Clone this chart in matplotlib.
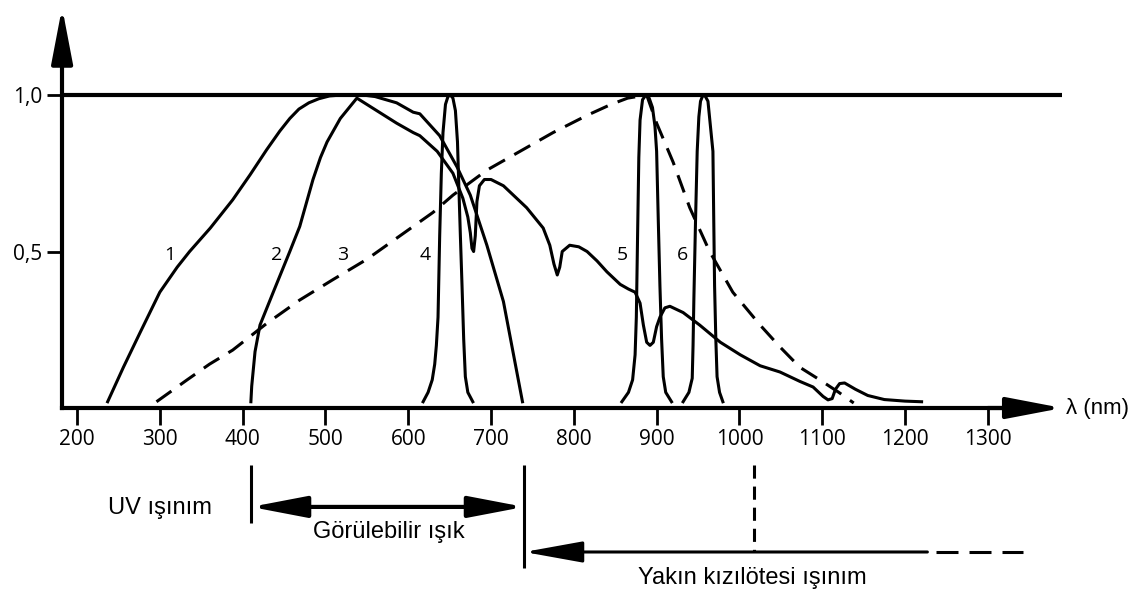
import matplotlib.pyplot as plt

plt.rcParams['font.family'] = ['Liberation Sans', 'DejaVu Sans']

# curve 1 (nm, relative sensitivity)
c1_nm = [237, 256, 276, 300, 321, 336, 361, 388, 409, 429, 445, 457, 468, 480, 492, 505, 520, 545,
         560, 586, 606, 614, 638, 659, 675, 695, 715, 738]
c1_val = [0.02, 0.13, 0.24, 0.37, 0.45, 0.50, 0.575, 0.665, 0.745, 0.825, 0.885, 0.925, 0.955, 0.975, 0.988, 0.997, 1.0, 1.0,
          0.995, 0.975, 0.945, 0.94, 0.87, 0.77, 0.68, 0.52, 0.34, 0.02]

# curve 2
c2_nm = [410, 411, 415, 421, 437, 457, 469, 485, 494, 502, 518, 538, 550, 574, 586, 606, 614, 635,
         654, 666, 672, 675, 677, 679, 681, 683, 686, 692, 700, 715, 743, 763, 771, 776, 780,
         783, 786, 795, 806, 816, 828, 840, 856, 866, 874, 880, 884, 888, 892, 896, 900, 904,
         910, 916, 932, 952, 977, 1001, 1025, 1049, 1073, 1089, 1101, 1107, 1112, 1116, 1121,
         1127, 1140, 1155, 1175, 1200, 1220]
c2_val = [0.02, 0.07, 0.18, 0.265, 0.37, 0.50, 0.58, 0.73, 0.80, 0.85, 0.925, 0.99, 0.97, 0.93, 0.91, 0.88, 0.87, 0.82,
          0.75, 0.67, 0.61, 0.56, 0.51, 0.50, 0.55, 0.66, 0.71, 0.73, 0.73, 0.71, 0.64, 0.575, 0.52, 0.46, 0.425,
          0.45, 0.50, 0.52, 0.515, 0.50, 0.47, 0.435, 0.395, 0.38, 0.37, 0.335, 0.265, 0.21, 0.20, 0.21, 0.26, 0.29,
          0.32, 0.325, 0.305, 0.265, 0.21, 0.17, 0.135, 0.115, 0.085, 0.067, 0.037, 0.026, 0.03, 0.06, 0.078,
          0.08, 0.06, 0.04, 0.027, 0.022, 0.02]

# curve 3 (dashed)
c3_nm = [296, 333, 360, 388, 429, 469, 509, 550, 590, 630, 654, 695, 735, 775, 816, 845, 865, 888,
         900, 920, 940, 964, 992, 1025, 1049, 1073, 1097, 1120, 1138]
c3_val = [0.02, 0.09, 0.14, 0.185, 0.27, 0.345, 0.41, 0.475, 0.55, 0.625, 0.68, 0.76, 0.82, 0.88, 0.935, 0.97, 0.99, 1.0,
          0.91, 0.785, 0.64, 0.50, 0.37, 0.265, 0.195, 0.13, 0.09, 0.05, 0.016]

# curves 4, 5, 6 (narrow peaks)
c4_nm = [618, 624, 629, 632, 634, 636, 638, 640, 642, 645, 648, 651, 654, 657, 659.5, 661, 663, 665, 667, 669, 672, 678]
c4_val = [0.02, 0.05, 0.09, 0.14, 0.2, 0.29, 0.55, 0.75, 0.88, 0.97, 0.995, 1.0, 0.99, 0.95, 0.85, 0.72, 0.55, 0.39, 0.22, 0.1, 0.05, 0.02]
c5_nm = [858, 866, 871, 874, 875.5, 877, 878.5, 880, 883, 887, 891, 895, 898, 900, 902, 904, 906, 908, 911, 918]
c5_val = [0.02, 0.05, 0.09, 0.17, 0.29, 0.55, 0.8, 0.92, 0.985, 1.0, 0.99, 0.96, 0.9, 0.82, 0.6, 0.39, 0.22, 0.1, 0.05, 0.02]
c6_nm = [932, 939, 943, 944, 945, 947, 949, 951, 953, 956, 959, 962, 965, 968, 969, 970, 971.5, 973, 976, 980]
c6_val = [0.02, 0.05, 0.095, 0.2, 0.35, 0.6, 0.82, 0.93, 0.98, 1.0, 0.995, 0.98, 0.9, 0.82, 0.6, 0.39, 0.22, 0.1, 0.05, 0.02]

curve_labels = ['1', '2', '3', '4', '5', '6']
label_nm = [312, 441, 521, 620, 858, 931]
label_val = [0.49, 0.49, 0.49, 0.49, 0.49, 0.49]

xticks = list(range(200, 1400, 100))
yticks = [0.5, 1.0]
ytick_labels = ['0,5', '1,0']

# spectral ranges below the axis
uv_edge = 410
vis_edge = 740
ir_mark = 1018
ir_solid_end = 1227
ir_end = 1343

fig = plt.figure(figsize=(11.43, 5.97), dpi=100)
ax = fig.add_axes([0, 0, 1, 1])
ax.set_xlim(107, 1487.4)
ax.set_ylim(-0.6038, 1.3035)

for s in ['top', 'right']:
    ax.spines[s].set_visible(False)
ax.spines['left'].set_position(('data', 182))
ax.spines['left'].set_bounds(0, 1.15)
ax.spines['bottom'].set_position(('data', 0))
ax.spines['bottom'].set_bounds(182, 1340)
ax.spines['left'].set_linewidth(3)
ax.spines['bottom'].set_linewidth(3)

ax.set_xticks(xticks)
ax.set_xticklabels([str(t) for t in xticks], family=['Open Sans', 'DejaVu Sans'])
ax.set_yticks(yticks)
ax.set_yticklabels(ytick_labels, family=['Open Sans', 'DejaVu Sans'])
ax.tick_params(axis='x', direction='out', length=12, width=2, pad=3, labelsize=15)
ax.tick_params(axis='y', direction='out', length=11, width=2, pad=3, labelsize=15)

arrow_head = 'head_length=3.4,head_width=0.65'
ax.annotate('', xy=(182, 1.28), xytext=(182, 1.1),
            arrowprops=dict(arrowstyle='-|>,' + arrow_head, lw=3, color='k',
                            shrinkA=0, shrinkB=0, mutation_scale=10))
ax.annotate('', xy=(1390, 0), xytext=(1300, 0),
            arrowprops=dict(arrowstyle='-|>,' + arrow_head, lw=3, color='k',
                            shrinkA=0, shrinkB=0, mutation_scale=10))
ax.text(1394, 0, 'λ (nm)', fontsize=16, va='center', ha='left')

ax.hlines(1.0, 182, 1390, color='k', lw=3)

lw = 2.2
ax.plot(c1_nm, c1_val, color='k', lw=lw)
ax.plot(c2_nm, c2_val, color='k', lw=lw)
ax.plot(c3_nm, c3_val, color='k', lw=lw, dashes=(6, 3.5))
ax.plot(c4_nm, c4_val, color='k', lw=lw)
ax.plot(c5_nm, c5_val, color='k', lw=lw)
ax.plot(c6_nm, c6_val, color='k', lw=lw)

for t, x, y in zip(curve_labels, label_nm, label_val):
    ax.text(x, y, t, fontsize=14, ha='center', va='center', family=['Open Sans', 'DejaVu Sans'])

# bottom annotation: UV / visible / near infrared
ax.vlines(uv_edge, -0.367, -0.182, color='k', lw=2.2)
ax.vlines(vis_edge, -0.511, -0.182, color='k', lw=2.2)
ax.plot([ir_mark, ir_mark], [-0.182, -0.46], color='k', lw=2.2, dashes=(4.3, 2.6))
ax.annotate('', xy=(vis_edge, -0.316), xytext=(uv_edge, -0.316),
            arrowprops=dict(arrowstyle='<|-|>,' + arrow_head, lw=3, color='k',
                            shrinkA=0, shrinkB=0, mutation_scale=10))
ax.annotate('', xy=(vis_edge, -0.46), xytext=(ir_solid_end, -0.46),
            arrowprops=dict(arrowstyle='-|>,head_length=3.6,head_width=0.65', lw=2.2, color='k',
                            shrinkA=0, shrinkB=0, mutation_scale=10))
ax.plot([ir_solid_end + 10, ir_end], [-0.46, -0.46], color='k', lw=2.2, dashes=(7.2, 3.6))

ax.text(300, -0.319, 'UV ışınım', fontsize=17, ha='center', va='center')
ax.text(576, -0.396, 'Görülebilir ışık', fontsize=17, ha='center', va='center')
ax.text(1015, -0.543, 'Yakın kızılötesi ışınım', fontsize=17, ha='center', va='center')

fig.savefig('out.png', dpi=100, facecolor='white')
